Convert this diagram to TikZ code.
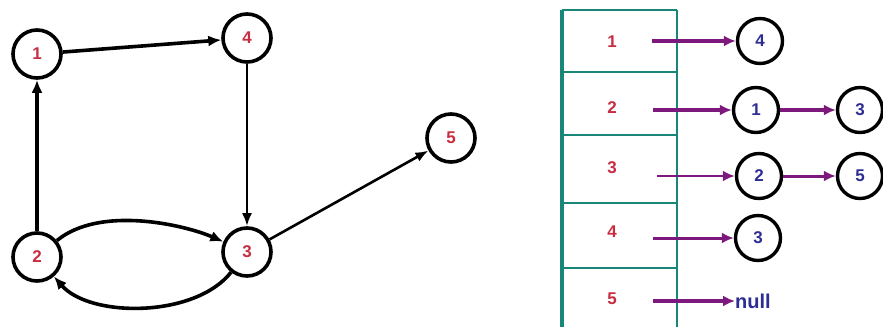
\documentclass[tikz,border=0pt]{standalone}
\usepackage{fontspec}
\setmainfont{Liberation Sans}
\usetikzlibrary{arrows.meta}
\definecolor{tealc}{RGB}{25,135,120}
\definecolor{purplec}{RGB}{125,25,125}
\definecolor{redc}{RGB}{200,45,65}
\definecolor{bluec}{RGB}{45,45,150}
\begin{document}
\begin{tikzpicture}[x=1pt,y=-1pt,
  gnode/.style={circle, draw=black, line width=3.6pt, minimum size=48pt, inner sep=0pt,
    font=\fontsize{17}{20}\selectfont\bfseries, text=redc},
  lnode/.style={circle, draw=black, line width=3.4pt, minimum size=45pt, inner sep=0pt,
    font=\fontsize{17}{20}\selectfont\bfseries, text=bluec},
  cellnum/.style={font=\fontsize{17}{20}\selectfont\bfseries, text=redc, inner sep=0pt},
  garrow/.style={-{Latex[length=13pt,width=11pt]}, line width=3.6pt},
  gthin/.style={-{Latex[length=13pt,width=10pt]}, line width=2.6pt},
  parrow/.style={draw=purplec, -{Latex[length=12pt,width=11pt]}, line width=4pt},
  pthin/.style={draw=purplec, -{Latex[length=12pt,width=11pt]}, line width=2.6pt},
  tline/.style={draw=tealc, line width=2.4pt}]
\useasboundingbox (0,0) rectangle (883,327);
\fill[white] (0,0) rectangle (883,327);

% ---------- graph ----------
\node[gnode] (n1) at (37,54) {1};
\node[gnode] (n4) at (247,38) {4};
\node[gnode] (n5) at (451,138) {5};
\node[gnode] (n2) at (37,257) {2};
\node[gnode] (n3) at (247,252) {3};

\draw[garrow] (n1) -- (n4);
\draw[garrow] (n2) -- (n1);
\draw[gthin] (n4) -- (n3);
\draw[gthin] (n3) -- (n5);
\draw[garrow] (n2) .. controls (100,205) and (185,225) .. (n3);
\draw[garrow] (n3) .. controls (195,318) and (90,318) .. (n2);

% ---------- table ----------
\draw[tline, line width=3.4pt] (562,10) -- (562,327);
\draw[tline] (677,10) -- (677,327);
\draw[tline] (562,10) -- (677,10);
\draw[tline] (562,72) -- (677,72);
\draw[tline] (562,135) -- (677,135);
\draw[tline] (562,203) -- (677,203);
\draw[tline] (562,268) -- (677,268);

\node[cellnum] (c1) at (612,42) {1};
\node[cellnum] (c2) at (612,108) {2};
\node[cellnum] (c3) at (612,168) {3};
\node[cellnum] (c4) at (612,232) {4};
\node[cellnum] (c5) at (612,299) {5};

\coordinate (s1) at (652,41);
\coordinate (s2) at (653,110);
\coordinate (s3) at (657,176);
\coordinate (s4) at (653,238);
\coordinate (s5) at (653,301);

\node[lnode] (r4) at (760,41) {4};
\node[lnode] (r1) at (756,110) {1};
\node[lnode] (r3a) at (860,110) {3};
\node[lnode] (r2) at (759,176) {2};
\node[lnode] (r5) at (860,176) {5};
\node[lnode] (r3b) at (758,238) {3};
\node[anchor=west, inner sep=0pt, font=\fontsize{20}{22}\selectfont\bfseries, text=bluec] (nl) at (735,301) {null};

\draw[parrow] (s1) -- (r4);
\draw[parrow] (s2) -- (r1);
\draw[parrow] (r1) -- (r3a);
\draw[pthin] (s3) -- (r2);
\draw[pthin, line width=3pt] (r2) -- (r5);
\draw[pthin, line width=3pt] (s4) -- (r3b);
\draw[parrow] (s5) -- (nl.west);
\end{tikzpicture}
\end{document}
